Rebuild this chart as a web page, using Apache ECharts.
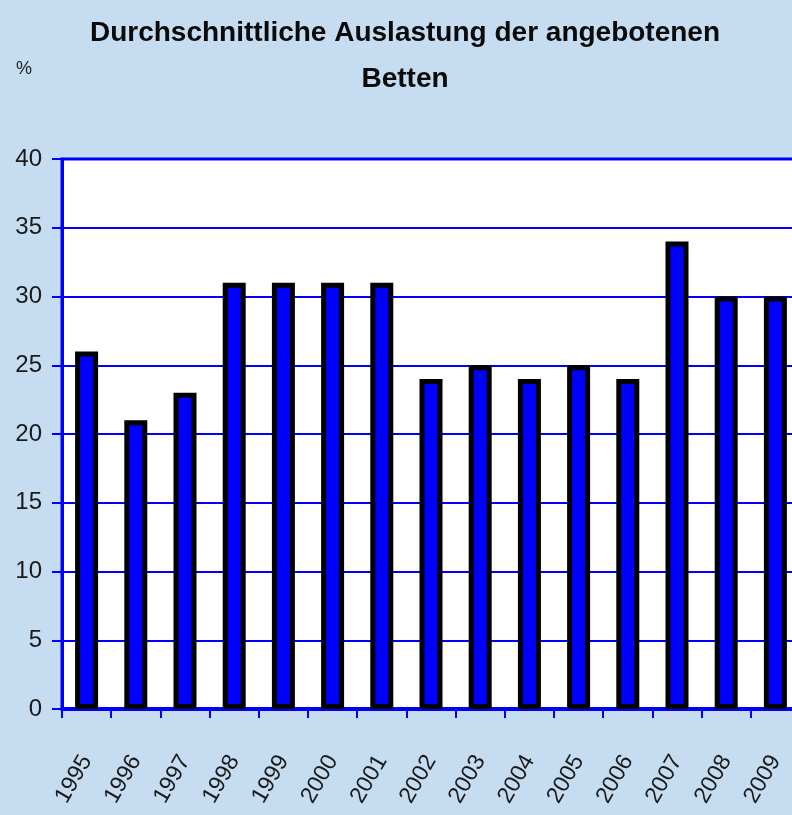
<!DOCTYPE html>
<html>
<head>
<meta charset="utf-8">
<script src="https://cdn.jsdelivr.net/npm/echarts@6/dist/echarts.min.js"></script>
<style>
html,body{margin:0;padding:0;background:#C5DCF1;overflow:hidden;width:792px;height:815px;}
#c{width:800px;height:815px;}
</style>
</head>
<body>
<div id="c"></div>
<script>
const years = ['1995','1996','1997','1998','1999','2000','2001','2002','2003','2004','2005','2006','2007','2008','2009'];
const occupancy = [26,21,23,31,31,31,31,24,25,24,25,24,34,30,30];
const yTicks = {min:0, max:40, interval:5};
const FONT = "'Liberation Sans Narrow','Arial Narrow','Liberation Sans',Arial,sans-serif";

const chart = echarts.init(document.getElementById('c'));
chart.setOption({
  backgroundColor:'#C5DCF1',
  animation:false,
  title:[{
    text:'Durchschnittliche Auslastung der angebotenen\nBetten',
    left:400, top:5, textAlign:'center',
    textStyle:{fontFamily:FONT, fontSize:28, fontWeight:'bold', color:'#0a0a0a', lineHeight:46}
  },{
    text:'%', left:11, top:55,
    textStyle:{fontFamily:FONT, fontSize:18, fontWeight:'normal', color:'#222'}
  }],
  grid:{left:62, top:159, right:0, bottom:106, show:true, backgroundColor:'#fff', borderColor:'#0000FF', borderWidth:3, containLabel:false},
  xAxis:{
    type:'category', data:years,
    axisLine:{lineStyle:{color:'#0000FF', width:4}},
    axisTick:{show:true, length:9, lineStyle:{color:'#0000FF', width:2}},
    axisLabel:{rotate:60, margin:48, fontFamily:FONT, fontSize:23, color:'#1a1a1a', interval:0}
  },
  yAxis:{
    type:'value', min:yTicks.min, max:yTicks.max, interval:yTicks.interval,
    axisLine:{show:true, lineStyle:{color:'#0000FF', width:3}},
    axisTick:{show:true, length:10, lineStyle:{color:'#0000FF', width:2}},
    splitLine:{lineStyle:{color:'#0000FF', width:2}},
    axisLabel:{fontFamily:FONT, fontSize:24, color:'#1a1a1a', margin:20}
  },
  series:[{
    type:'bar', data:occupancy, barWidth:23,
    itemStyle:{color:'#0000FF', borderColor:'#000', borderWidth:5}
  }]
});
</script>
</body>
</html>
